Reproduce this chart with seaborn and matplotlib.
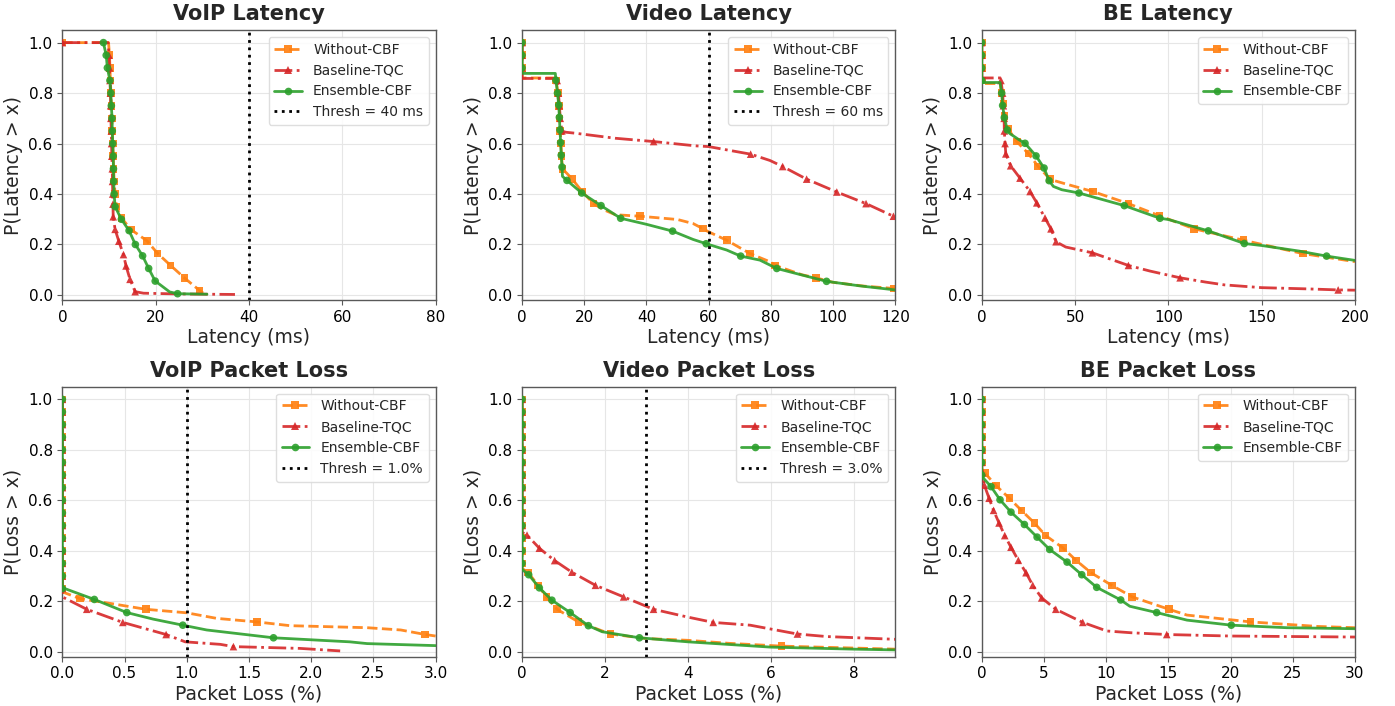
import numpy as np
import matplotlib
matplotlib.use("Agg")
import matplotlib.pyplot as plt
from matplotlib.lines import Line2D
import seaborn as sns

# ---------------------------------------------------------------- data
series_names = ["Without-CBF", "Baseline-TQC", "Ensemble-CBF"]
panel_titles = ["VoIP Latency", "Video Latency", "BE Latency",
                "VoIP Packet Loss", "Video Packet Loss", "BE Packet Loss"]
x_labels = ["Latency (ms)", "Latency (ms)", "Latency (ms)",
            "Packet Loss (%)", "Packet Loss (%)", "Packet Loss (%)"]
y_labels = ["P(Latency > x)", "P(Latency > x)", "P(Latency > x)",
            "P(Loss > x)", "P(Loss > x)", "P(Loss > x)"]
x_max = [80, 120, 200, 3.0, 9, 30]
x_ticks = [[0, 20, 40, 60, 80], [0, 20, 40, 60, 80, 100, 120], [0, 50, 100, 150, 200],
           [0.0, 0.5, 1.0, 1.5, 2.0, 2.5, 3.0], [0, 2, 4, 6, 8], [0, 5, 10, 15, 20, 25, 30]]
y_ticks = [0.0, 0.2, 0.4, 0.6, 0.8, 1.0]
thresholds = [40, 60, None, 1.0, 3.0, None]
thresh_labels = ["Thresh = 40 ms", "Thresh = 60 ms", None,
                 "Thresh = 1.0%", "Thresh = 3.0%", None]

# --- VoIP latency (marker points mx/my, extra curve vertices ex/ey)
vl_wo_mx = [0, 10.1, 10.2, 10.3, 10.4, 10.5, 10.6, 10.7, 10.8, 10.9, 11.0, 11.1, 11.3, 11.6, 12.7, 14.65, 18.1, 20.4, 23.2, 26.2, 29.4]
vl_wo_my = [1.0, 0.95, 0.9, 0.85, 0.8, 0.75, 0.7, 0.65, 0.6, 0.55, 0.5, 0.45, 0.4, 0.35, 0.305, 0.26, 0.215, 0.165, 0.117, 0.067, 0.018]
vl_wo_ex = [9.9, 30.5]
vl_wo_ey = [1.0, 0.003]
vl_tqc_mx = [0, 10.0, 10.1, 10.2, 10.3, 10.35, 10.4, 10.5, 10.55, 10.6, 10.7, 10.75, 10.8, 10.85, 10.9, 11.3, 12.1, 13.1, 13.65, 14.5, 15.6]
vl_tqc_my = [1.0, 0.95, 0.9, 0.85, 0.8, 0.75, 0.7, 0.65, 0.6, 0.55, 0.5, 0.45, 0.4, 0.36, 0.31, 0.26, 0.213, 0.16, 0.115, 0.062, 0.013]
vl_tqc_ex = [9.8, 17.4, 25.0, 37.0]
vl_tqc_ey = [1.0, 0.007, 0.004, 0.002]
vl_ens_mx = [8.8, 9.4, 9.65, 10.2, 10.4, 10.5, 10.65, 10.7, 10.8, 10.9, 10.95, 11.0, 11.1, 11.3, 12.65, 14.3, 15.65, 17.2, 18.5, 19.9, 24.7]
vl_ens_my = [1.0, 0.95, 0.9, 0.85, 0.8, 0.75, 0.7, 0.65, 0.6, 0.55, 0.5, 0.45, 0.4, 0.35, 0.3, 0.255, 0.2, 0.155, 0.105, 0.055, 0.005]
vl_ens_ex = [21.0, 23.0, 31.0]
vl_ens_ey = [0.04, 0.012, 0.003]

# --- Video latency
dl_wo_mx = [0, 0, 0, 11.0, 11.5, 11.9, 12.1, 12.3, 12.5, 12.7, 13.0, 16.1, 19.3, 23.0, 38.0, 58.1, 65.8, 73.3, 81.4, 94.5, 119.4]
dl_wo_my = [1.0, 0.95, 0.9, 0.85, 0.8, 0.75, 0.7, 0.65, 0.6, 0.55, 0.5, 0.46, 0.41, 0.362, 0.312, 0.263, 0.217, 0.164, 0.117, 0.068, 0.026]
dl_wo_ex = [0, 10.7, 26.2, 30.0, 50.0, 55.0, 60.0, 80.0, 90.0, 100.0, 110.0, 120.0]
dl_wo_ey = [0.86, 0.86, 0.338, 0.318, 0.299, 0.283, 0.25, 0.13, 0.08, 0.05, 0.035, 0.025]
dl_tqc_mx = [0, 0, 0, 11.3, 11.7, 12.0, 12.3, 12.8, 42.3, 73.5, 83.8, 91.5, 101.2, 110.6, 119.4]
dl_tqc_my = [1.0, 0.95, 0.9, 0.85, 0.8, 0.75, 0.7, 0.65, 0.608, 0.558, 0.509, 0.459, 0.408, 0.362, 0.312]
dl_tqc_ex = [0, 11.0, 14.0, 17.1, 30.0, 55.7, 60.0, 65.8, 79.7, 120.0]
dl_tqc_ey = [0.858, 0.858, 0.645, 0.641, 0.621, 0.591, 0.588, 0.575, 0.533, 0.308]
dl_ens_mx = [0, 0, 0, 10.9, 11.4, 11.8, 12.0, 12.2, 12.4, 12.6, 12.85, 14.45, 19.2, 25.4, 31.7, 48.4, 59.2, 70.3, 81.9, 97.9]
dl_ens_my = [1.0, 0.95, 0.9, 0.851, 0.8, 0.753, 0.704, 0.654, 0.604, 0.554, 0.507, 0.454, 0.404, 0.354, 0.304, 0.253, 0.203, 0.154, 0.105, 0.054]
dl_ens_ex = [0, 10.7, 13.0, 40.0, 55.0, 65.8, 76.5, 87.2, 108.6, 120.0]
dl_ens_ey = [0.878, 0.878, 0.47, 0.28, 0.22, 0.178, 0.138, 0.088, 0.036, 0.02]

# --- BE latency
bl_wo_mx = [0, 0, 0, 0, 10.5, 11.6, 12.3, 14.0, 18.75, 25.0, 30.3, 36.6, 59.5, 78.6, 95.2, 113.9, 140.2, 172.0]
bl_wo_my = [1.0, 0.95, 0.9, 0.85, 0.8, 0.759, 0.71, 0.66, 0.608, 0.56, 0.509, 0.459, 0.41, 0.362, 0.314, 0.262, 0.217, 0.164]
bl_wo_ex = [0, 10.0, 38.0, 45.0, 200.0]
bl_wo_ey = [0.838, 0.838, 0.455, 0.44, 0.132]
bl_tqc_mx = [0, 0, 0, 10.3, 11.2, 11.6, 12.0, 12.1, 12.5, 12.9, 15.5, 20.5, 25.9, 29.5, 33.9, 37.1, 39.8, 59.3, 78.6, 106.3, 191.0]
bl_tqc_my = [1.0, 0.95, 0.9, 0.85, 0.8, 0.75, 0.7, 0.65, 0.6, 0.559, 0.512, 0.463, 0.41, 0.365, 0.305, 0.262, 0.211, 0.167, 0.117, 0.068, 0.02]
bl_tqc_ex = [0, 10.3, 45.0, 90.0, 120.0, 130.0, 150.0, 175.0, 200.0]
bl_tqc_ey = [0.86, 0.86, 0.19, 0.095, 0.051, 0.04, 0.029, 0.024, 0.019]
bl_ens_mx = [0, 0, 0, 0, 10.7, 11.2, 12.1, 13.7, 23.2, 29.1, 33.4, 36.1, 52.1, 76.4, 95.5, 121.4, 140.7, 184.8]
bl_ens_my = [1.0, 0.95, 0.9, 0.85, 0.8, 0.751, 0.703, 0.654, 0.601, 0.551, 0.503, 0.453, 0.404, 0.354, 0.304, 0.254, 0.204, 0.154]
bl_ens_ex = [0, 9.8, 15.0, 20.0, 38.4, 42.9, 100.0, 150.0, 170.0, 200.0]
bl_ens_ey = [0.842, 0.842, 0.64, 0.615, 0.43, 0.417, 0.299, 0.196, 0.174, 0.137]

# --- VoIP packet loss
vp_wo_mx = [0, 0, 0, 0, 0, 0, 0, 0, 0, 0, 0, 0, 0, 0, 0, 0, 0.142, 0.67, 1.563, 2.917]
vp_wo_my = [1.0, 0.95, 0.9, 0.85, 0.8, 0.75, 0.7, 0.65, 0.6, 0.55, 0.5, 0.45, 0.4, 0.35, 0.3, 0.25, 0.21, 0.168, 0.118, 0.068]
vp_wo_ex = [0, 0.4, 1.0, 1.24, 1.83, 2.45, 2.72, 3.0]
vp_wo_ey = [0.237, 0.19, 0.154, 0.132, 0.103, 0.095, 0.086, 0.062]
vp_tqc_mx = [0, 0, 0, 0, 0, 0, 0, 0, 0, 0, 0, 0, 0, 0, 0, 0, 0.196, 0.486, 0.834, 1.375]
vp_tqc_my = [1.0, 0.95, 0.9, 0.85, 0.8, 0.75, 0.7, 0.65, 0.6, 0.55, 0.5, 0.45, 0.4, 0.35, 0.3, 0.25, 0.168, 0.116, 0.068, 0.02]
vp_tqc_ex = [0, 0.987, 1.27, 1.91, 2.233]
vp_tqc_ey = [0.217, 0.039, 0.029, 0.013, 0.003]
vp_ens_mx = [0, 0, 0, 0, 0, 0, 0, 0, 0, 0, 0, 0, 0, 0, 0, 0, 0.257, 0.518, 0.968, 1.697]
vp_ens_my = [1.0, 0.95, 0.9, 0.85, 0.8, 0.75, 0.7, 0.65, 0.6, 0.55, 0.5, 0.45, 0.4, 0.35, 0.3, 0.25, 0.207, 0.155, 0.105, 0.055]
vp_ens_ex = [0.02, 0.73, 1.16, 2.31, 2.45, 3.0]
vp_ens_ey = [0.25, 0.129, 0.086, 0.039, 0.032, 0.024]

# --- Video packet loss
dp_wo_mx = [0, 0, 0, 0, 0, 0, 0, 0, 0, 0, 0, 0, 0, 0, 0.15, 0.385, 0.586, 0.843, 1.36, 2.13, 6.26]
dp_wo_my = [1.0, 0.95, 0.9, 0.85, 0.8, 0.75, 0.7, 0.65, 0.6, 0.55, 0.5, 0.45, 0.4, 0.35, 0.313, 0.263, 0.217, 0.168, 0.118, 0.07, 0.022]
dp_wo_ex = [0, 3.0, 4.0, 5.0, 9.0]
dp_wo_ey = [0.33, 0.052, 0.045, 0.033, 0.01]
dp_tqc_mx = [0, 0, 0, 0, 0, 0, 0, 0, 0, 0, 0, 0.12, 0.417, 0.786, 1.2, 1.77, 2.45, 3.17, 4.61, 6.64]
dp_tqc_my = [1.0, 0.95, 0.9, 0.85, 0.8, 0.75, 0.7, 0.65, 0.6, 0.55, 0.5, 0.462, 0.41, 0.361, 0.315, 0.263, 0.217, 0.168, 0.116, 0.07]
dp_tqc_ex = [0, 3.97, 5.5, 7.34, 9.0]
dp_tqc_ey = [0.473, 0.138, 0.105, 0.06, 0.049]
dp_ens_mx = [0, 0, 0, 0, 0, 0, 0, 0, 0, 0, 0, 0, 0, 0, 0.16, 0.417, 0.72, 1.16, 1.6, 2.83]
dp_ens_my = [1.0, 0.95, 0.9, 0.85, 0.8, 0.75, 0.7, 0.65, 0.6, 0.55, 0.5, 0.45, 0.4, 0.35, 0.305, 0.253, 0.204, 0.155, 0.103, 0.055]
dp_ens_ex = [0, 1.93, 4.0, 6.0, 8.0, 9.0]
dp_ens_ey = [0.326, 0.079, 0.039, 0.018, 0.01, 0.007]

# --- BE packet loss
bp_wo_mx = [0, 0, 0, 0, 0, 0, 0.27, 1.15, 2.22, 3.21, 4.23, 5.14, 6.51, 7.58, 8.78, 10.45, 12.1, 15.05, 21.6]
bp_wo_my = [1.0, 0.95, 0.9, 0.85, 0.8, 0.75, 0.707, 0.658, 0.608, 0.559, 0.51, 0.46, 0.412, 0.362, 0.313, 0.263, 0.217, 0.168, 0.118]
bp_wo_ex = [0, 16.5, 27.0, 30.0]
bp_wo_ey = [0.72, 0.145, 0.1, 0.095]
bp_tqc_mx = [0, 0, 0, 0, 0, 0, 0.05, 0.21, 0.59, 0.95, 1.39, 1.85, 2.35, 2.94, 3.56, 4.1, 4.82, 5.95, 8.12, 14.87]
bp_tqc_my = [1.0, 0.95, 0.9, 0.85, 0.8, 0.75, 0.71, 0.66, 0.608, 0.56, 0.51, 0.46, 0.414, 0.362, 0.313, 0.263, 0.213, 0.168, 0.116, 0.068]
bp_tqc_ex = [0, 10.05, 12.0, 20.0, 30.0]
bp_tqc_ey = [0.73, 0.082, 0.075, 0.062, 0.058]
bp_ens_mx = [0, 0, 0, 0, 0, 0, 0, 0.75, 1.47, 2.35, 3.43, 4.45, 5.46, 6.86, 8.04, 9.24, 11.17, 14.06, 20.06]
bp_ens_my = [1.0, 0.95, 0.9, 0.85, 0.8, 0.75, 0.7, 0.654, 0.602, 0.553, 0.504, 0.454, 0.405, 0.355, 0.305, 0.255, 0.205, 0.155, 0.105]
bp_ens_ex = [0, 11.9, 16.5, 24.5, 30.0]
bp_ens_ey = [0.695, 0.18, 0.125, 0.095, 0.091]

panels = [
    [(vl_wo_mx, vl_wo_my, vl_wo_ex, vl_wo_ey), (vl_tqc_mx, vl_tqc_my, vl_tqc_ex, vl_tqc_ey), (vl_ens_mx, vl_ens_my, vl_ens_ex, vl_ens_ey)],
    [(dl_wo_mx, dl_wo_my, dl_wo_ex, dl_wo_ey), (dl_tqc_mx, dl_tqc_my, dl_tqc_ex, dl_tqc_ey), (dl_ens_mx, dl_ens_my, dl_ens_ex, dl_ens_ey)],
    [(bl_wo_mx, bl_wo_my, bl_wo_ex, bl_wo_ey), (bl_tqc_mx, bl_tqc_my, bl_tqc_ex, bl_tqc_ey), (bl_ens_mx, bl_ens_my, bl_ens_ex, bl_ens_ey)],
    [(vp_wo_mx, vp_wo_my, vp_wo_ex, vp_wo_ey), (vp_tqc_mx, vp_tqc_my, vp_tqc_ex, vp_tqc_ey), (vp_ens_mx, vp_ens_my, vp_ens_ex, vp_ens_ey)],
    [(dp_wo_mx, dp_wo_my, dp_wo_ex, dp_wo_ey), (dp_tqc_mx, dp_tqc_my, dp_tqc_ex, dp_tqc_ey), (dp_ens_mx, dp_ens_my, dp_ens_ex, dp_ens_ey)],
    [(bp_wo_mx, bp_wo_my, bp_wo_ex, bp_wo_ey), (bp_tqc_mx, bp_tqc_my, bp_tqc_ex, bp_tqc_ey), (bp_ens_mx, bp_ens_my, bp_ens_ex, bp_ens_ey)],
]

# ---------------------------------------------------------------- style
colors = ["#ff7f0e", "#d62728", "#2ca02c"]
linestyles = ["--", "-.", "-"]
markers = ["s", "^", "o"]
LW = 2.0
ALPHA = 0.9

sns.set_style("whitegrid", {"axes.edgecolor": "0.35", "grid.color": "0.9",
                            "xtick.bottom": True, "ytick.left": True,
                            "xtick.color": "0.35", "ytick.color": "0.35"})
plt.rcParams["font.family"] = ["DejaVu Sans"]


def ccdf_path(mx, my, ex, ey):
    x = np.concatenate([np.asarray(mx, float), np.asarray(ex, float)])
    y = np.concatenate([np.asarray(my, float), np.asarray(ey, float)])
    order = np.lexsort((-y, x))
    return x[order], y[order]


fig, axes = plt.subplots(2, 3, figsize=(13.95, 7.06), dpi=100)
fig.subplots_adjust(left=0.0447, right=0.9713, top=0.9575, bottom=0.0698,
                    wspace=86.4 / 373.0, hspace=86.7 / 270.0)

for i, ax in enumerate(axes.flat):
    for j in range(3):
        mx, my, ex, ey = panels[i][j]
        px, py = ccdf_path(mx, my, ex, ey)
        sns.lineplot(x=px, y=py, ax=ax, sort=False, estimator=None,
                     color=colors[j], linestyle=linestyles[j], linewidth=LW,
                     alpha=ALPHA, legend=False, zorder=2 + j)
        sns.scatterplot(x=mx, y=my, ax=ax, marker=markers[j], s=30,
                        color=colors[j], edgecolor="none", linewidth=0,
                        alpha=ALPHA, legend=False, zorder=2 + j)
    handles = [Line2D([0], [0], color=colors[j], linestyle=linestyles[j], linewidth=LW,
                      marker=markers[j], markersize=5.5, markeredgewidth=0, alpha=ALPHA,
                      label=series_names[j]) for j in range(3)]
    if thresholds[i] is not None:
        ax.axvline(thresholds[i], color="black", linestyle=":", linewidth=2.0, zorder=6)
        handles.append(Line2D([0], [0], color="black", linestyle=":", linewidth=2.0,
                              label=thresh_labels[i]))
    ax.set_xlim(0, x_max[i])
    ax.set_ylim(-0.02, 1.05)
    ax.set_xticks(x_ticks[i])
    ax.set_yticks(y_ticks)
    ax.tick_params(axis="both", labelsize=11, labelcolor="black", length=3.5, width=0.8)
    ax.set_title(panel_titles[i], fontsize=15, fontweight="bold", pad=7)
    ax.set_xlabel(x_labels[i], fontsize=13.5, labelpad=2)
    ax.set_ylabel(y_labels[i], fontsize=13.5, labelpad=4)
    for sp in ax.spines.values():
        sp.set_linewidth(1.0)
    ax.legend(handles=handles, loc="upper right", fontsize=10, framealpha=0.85,
              edgecolor="0.85", fancybox=True)

fig.savefig("out.png", dpi=100)
